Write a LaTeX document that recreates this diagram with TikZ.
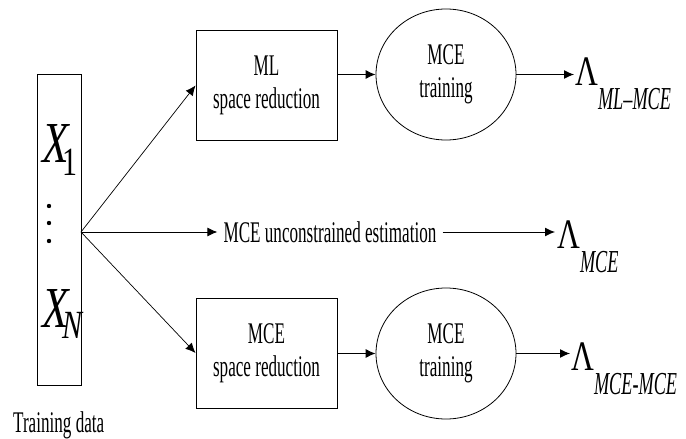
\documentclass[tikz,border=0pt]{standalone}
\usepackage{fontspec}
\setmainfont{Liberation Serif}[FakeStretch=0.57]
\newfontfamily\widefont{Liberation Serif}[FakeStretch=0.75]
\usetikzlibrary{shapes.geometric,arrows.meta}
\newcommand\lamsym{{\widefont\fontsize{42}{42}\selectfont Λ}}
\newcommand\lamsub[1]{\raisebox{-24pt}{\fontsize{32}{32}\selectfont\itshape #1}}
\begin{document}
\begin{tikzpicture}[x=1pt,y=-1pt,
  every node/.style={inner sep=0pt, font=\fontsize{30}{33}\selectfont},
  boxst/.style={draw, line width=1pt, minimum width=141pt, minimum height=110pt, align=center},
  ellst/.style={draw, ellipse, line width=0.8pt, minimum width=140pt, minimum height=131pt, align=center},
  arr/.style={-{Latex[length=10pt,width=9pt]}, line width=1pt},
  diag/.style={-{Latex[length=10pt,width=9pt]}, line width=0.7pt},
  dotst/.style={circle, fill, minimum size=4.4pt}]
\path[fill=white] (0,0) rectangle (686,439);
\useasboundingbox (0,0) rectangle (686,439);

% training data column
\node[draw, line width=0.8pt, minimum width=44pt, minimum height=311pt] (td) at (59,229.5) {};
\node[anchor=base west] (x1) at (42,162) {\widefont\fontsize{58}{58}\selectfont\itshape X\kern-6pt\raisebox{-13pt}{\fontsize{40}{40}\selectfont\upshape 1}};
\node[anchor=base west] (xn) at (42,327) {\widefont\fontsize{58}{58}\selectfont\itshape X\kern-6pt\raisebox{-11pt}{\fontsize{40}{40}\selectfont N}};
\node[dotst] (d1) at (49,206) {};
\node[dotst] (d2) at (49,223) {};
\node[dotst] (d3) at (49,241) {};
\node[anchor=base west] (tdl) at (13,432) {Training data};

\coordinate (br) at (81,232);

% boxes and ellipses
\node[boxst] (mlb) at (266.5,85.5) {ML\\space reduction};
\node[ellst] (tr1) at (446,74.5) {MCE\\training};
\node[boxst] (mceb) at (266.5,353) {MCE\\space reduction};
\node[ellst] (tr2) at (446,353.5) {MCE\\training};
\node[inner xsep=6pt] (unc) at (330,232) {MCE unconstrained estimation};

% results
\node[anchor=base west] (lam1) at (575,85) {\lamsym\lamsub{ML–MCE}};
\node[anchor=base west] (lam2) at (557,248) {\lamsym\lamsub{MCE}};
\node[anchor=base west] (lam3) at (571,370) {\lamsym\lamsub{MCE-MCE}};

% connectors
\draw[diag] (br) -- (mlb.west);
\draw[diag] (br) -- (mceb.west);
\draw[arr] (br) -- (unc.west);
\draw[arr, shorten >=2pt] (unc.east) -- (unc.east -| lam2.west);
\draw[arr] (tr1.west -| mlb.east) -- (tr1.west);
\draw[arr, shorten >=1pt] (tr1.east) -- (tr1.east -| lam1.west);
\draw[arr] (tr2.west -| mceb.east) -- (tr2.west);
\draw[arr, shorten >=1pt] (tr2.east) -- (tr2.east -| lam3.west);
\end{tikzpicture}
\end{document}
